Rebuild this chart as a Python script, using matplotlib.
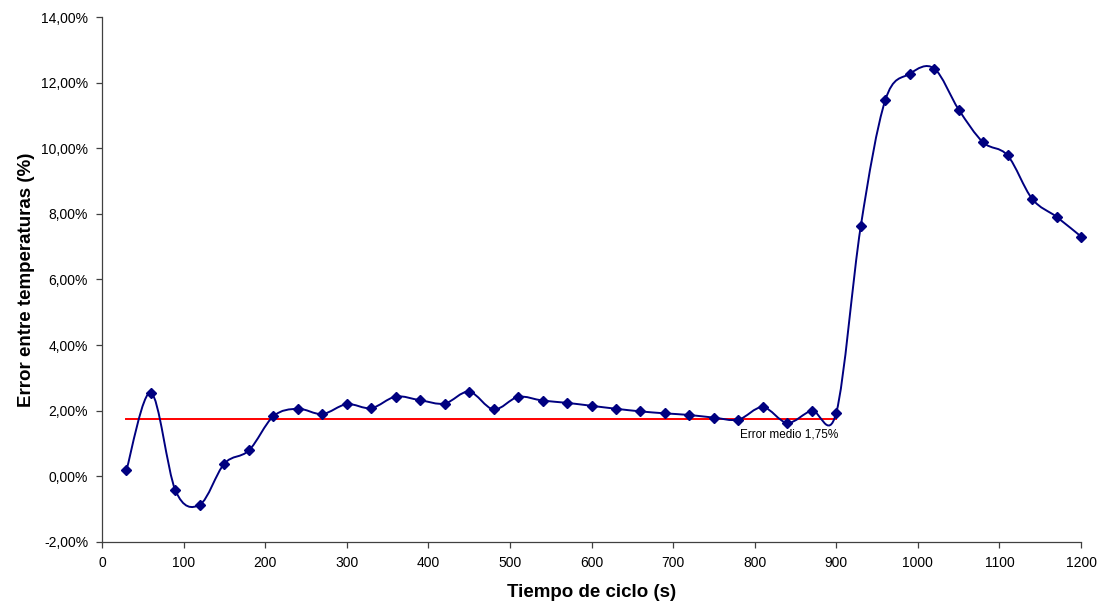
import matplotlib.pyplot as plt
import numpy as np
from matplotlib.path import Path
from matplotlib.patches import PathPatch
from matplotlib.ticker import FuncFormatter, MultipleLocator

plt.rcParams['font.family'] = ['Liberation Sans', 'DejaVu Sans']

# Data
tiempo = np.arange(30, 1201, 30)
error = [0.20, 2.55, -0.43, -0.86, 0.39, 0.79, 1.83, 2.06, 1.90, 2.20,
         2.08, 2.43, 2.32, 2.22, 2.58, 2.04, 2.42, 2.31, 2.24, 2.15,
         2.06, 1.98, 1.92, 1.87, 1.79, 1.73, 2.11, 1.63, 2.00, 1.94,
         7.62, 11.46, 12.27, 12.43, 11.18, 10.18, 9.78, 8.46, 7.91, 7.31]
error_medio = 1.75
medio_x = [30, 900]

x = np.asarray(tiempo, dtype=float)
y = np.asarray(error, dtype=float)


def smooth_path(x, y):
    # Excel-style smoothed line: Bezier segments with Catmull-Rom control points
    pts = np.column_stack([x, y])
    n = len(pts)
    verts = [pts[0]]
    codes = [Path.MOVETO]
    for i in range(n - 1):
        p0 = pts[i - 1] if i > 0 else pts[i]
        p1 = pts[i]
        p2 = pts[i + 1]
        p3 = pts[i + 2] if i + 2 < n else pts[i + 1]
        c1 = p1 + (p2 - p0) / 6
        c2 = p2 - (p3 - p1) / 6
        verts += [c1, c2, p2]
        codes += [Path.CURVE4] * 3
    return Path(verts, codes)


fig = plt.figure(figsize=(11.04, 6.03), dpi=100)
ax = fig.add_axes([0.0924, 0.1012, 0.8868, 0.8706])

ax.add_patch(PathPatch(smooth_path(x, y), facecolor='none',
                       edgecolor='#000080', lw=1.4, zorder=3))
ax.plot(x, y, linestyle='none', marker='D', markersize=5.5,
        color='#000080', zorder=4, clip_on=False)
ax.plot(medio_x, [error_medio, error_medio], color='#ff0000', lw=1.4, zorder=2)
ax.text(782, 1.28, 'Error medio 1,75%', fontsize=8.5, ha='left', va='center')

ax.set_xlim(0, 1200)
ax.set_ylim(-2, 14)
ax.xaxis.set_major_locator(MultipleLocator(100))
ax.yaxis.set_major_locator(MultipleLocator(2))
ax.yaxis.set_major_formatter(FuncFormatter(lambda v, p: f'{v:.2f}%'.replace('.', ',')))

for s in ['top', 'right']:
    ax.spines[s].set_visible(False)
for s in ['left', 'bottom']:
    ax.spines[s].set_color('#404040')
    ax.spines[s].set_linewidth(0.9)
ax.tick_params(axis='both', direction='out', length=4, width=0.9,
               color='#404040', labelsize=10, pad=6)

ax.set_xlabel('Tiempo de ciclo (s)', fontsize=13.5, fontweight='bold', labelpad=10)
ax.set_ylabel('Error entre temperaturas (%)', fontsize=13.5, fontweight='bold', labelpad=4)

fig.savefig('out.png', dpi=100)
